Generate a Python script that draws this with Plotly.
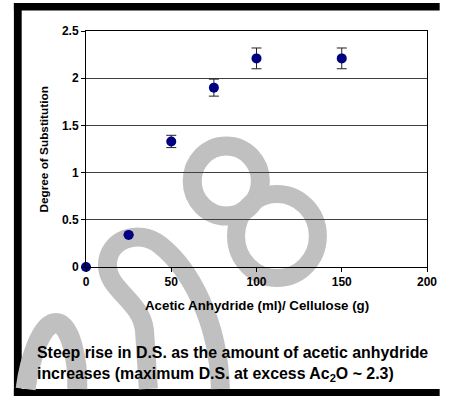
import plotly.graph_objects as go

# ---- data ----
amounts = [0, 25, 50, 75, 100, 150]          # Acetic anhydride (ml) / cellulose (g)
ds = [0.0, 0.34, 1.33, 1.90, 2.21, 2.21]      # Degree of substitution
ds_err = [0.0, 0.0, 0.065, 0.09, 0.11, 0.11]  # error bars

x_ticks = [0, 50, 100, 150, 200]
y_ticks = [0, 0.5, 1, 1.5, 2, 2.5]
y_tick_labels = ["0", "0.5", "1", "1.5", "2", "2.5"]

W, H = 449, 396
L, R, T, B = 86, 13, 31, 129
PW, PH = W - L - R, H - T - B


def px(x):
    return (x - L) / PW


def py(y):
    return (H - B - y) / PH


def path(cmds):
    out = []
    for c in cmds:
        if isinstance(c, str):
            out.append(c)
        else:
            out.append(f"{px(c[0]):.4f},{py(c[1]):.4f}")
    return " ".join(out)


FONT = "Liberation Sans, Arial, sans-serif"
GREY = "#c0c0c0"

fig = go.Figure()
fig.add_trace(go.Scatter(
    x=amounts, y=ds, mode="markers",
    marker=dict(color="#000080", size=10),
    error_y=dict(type="data", array=ds_err, visible=True,
                 color="#222222", thickness=1, width=5),
    cliponaxis=False, showlegend=False, hoverinfo="skip",
))

shapes = [
    # black frame (left, top, bottom bars)
    dict(type="rect", xref="paper", yref="paper", layer="below",
         x0=px(12), x1=px(20), y0=py(3), y1=py(396),
         fillcolor="black", line=dict(width=0)),
    dict(type="rect", xref="paper", yref="paper", layer="below",
         x0=px(12), x1=px(449), y0=py(3), y1=py(10.5),
         fillcolor="black", line=dict(width=0)),
    dict(type="rect", xref="paper", yref="paper", layer="below",
         x0=px(12), x1=px(449), y0=py(389), y1=py(396),
         fillcolor="black", line=dict(width=0)),
    # watermark "8"
    dict(type="circle", xref="paper", yref="paper", layer="below",
         x0=px(230 - 35), x1=px(230 + 35), y0=py(181 - 35), y1=py(181 + 35),
         line=dict(color=GREY, width=19)),
    dict(type="circle", xref="paper", yref="paper", layer="below",
         x0=px(282 - 42), x1=px(282 + 42), y0=py(236 - 42), y1=py(236 + 42),
         line=dict(color=GREY, width=18)),
    # watermark "0" loop
    dict(type="path", xref="paper", yref="paper", layer="below",
         path=path(["M", (150, 389), "L", (146, 330), "C", (142, 300), (108, 290), (108, 265),
                    "C", (108, 240), (140, 228), (162, 245),
                    "C", (192, 268), (222, 320), (224, 389)]),
         line=dict(color=GREY, width=19)),
    # bottom-left loop
    dict(type="path", xref="paper", yref="paper", layer="below",
         path=path(["M", (24, 389), "C", (28, 360), (40, 323), (55, 323),
                    "C", (70, 323), (78, 360), (77, 389)]),
         line=dict(color=GREY, width=20)),
]

annotations = [
    dict(text="<b>Degree of Substitution</b>", xref="paper", yref="paper",
         x=px(42.5), y=0.5, textangle=-90, showarrow=False,
         xanchor="center", yanchor="middle",
         font=dict(family=FONT, size=11.8, color="black")),
    dict(text="<b>Acetic Anhydride (ml)/ Cellulose (g)</b>", xref="paper", yref="paper",
         x=px(261), y=py(305), showarrow=False, xanchor="center", yanchor="middle",
         font=dict(family=FONT, size=13.3, color="black")),
    dict(text="<b>Steep rise in D.S. as the amount of acetic anhydride</b>",
         xref="paper", yref="paper", x=px(34), y=py(352), showarrow=False,
         xanchor="left", yanchor="middle",
         font=dict(family=FONT, size=15.9, color="black")),
    dict(text="<b>increases (maximum D.S. at excess Ac<sub>2</sub>O ~ 2.3)</b>",
         xref="paper", yref="paper", x=px(34), y=py(374), showarrow=False,
         xanchor="left", yanchor="middle",
         font=dict(family=FONT, size=15.9, color="black")),
]

fig.update_layout(
    width=W, height=H,
    margin=dict(l=L, r=R, t=T, b=B, pad=0),
    paper_bgcolor="white",
    plot_bgcolor="rgba(0,0,0,0)",
    shapes=shapes,
    annotations=annotations,
    hovermode=False,
    xaxis=dict(range=[0, 200], tickvals=x_ticks, showgrid=False, zeroline=False,
               showline=True, linecolor="black", linewidth=1, mirror=True,
               ticks="outside", ticklen=4, tickcolor="black",
               tickfont=dict(family=FONT, size=12, color="black", weight="bold")),
    yaxis=dict(range=[0, 2.5], tickvals=y_ticks, ticktext=y_tick_labels,
               showgrid=True, gridcolor="#404040", gridwidth=1, zeroline=False,
               showline=True, linecolor="black", linewidth=1, mirror=True,
               ticks="outside", ticklen=4, tickcolor="black",
               tickfont=dict(family=FONT, size=12, color="black", weight="bold")),
)

fig.write_html("out.html", config={"displayModeBar": False, "staticPlot": True},
               post_script=("document.documentElement.style.margin='0px';"
                            "document.documentElement.style.overflow='hidden';"
                            "document.body.style.margin='0px';"
                            "document.body.style.overflow='hidden';"))
